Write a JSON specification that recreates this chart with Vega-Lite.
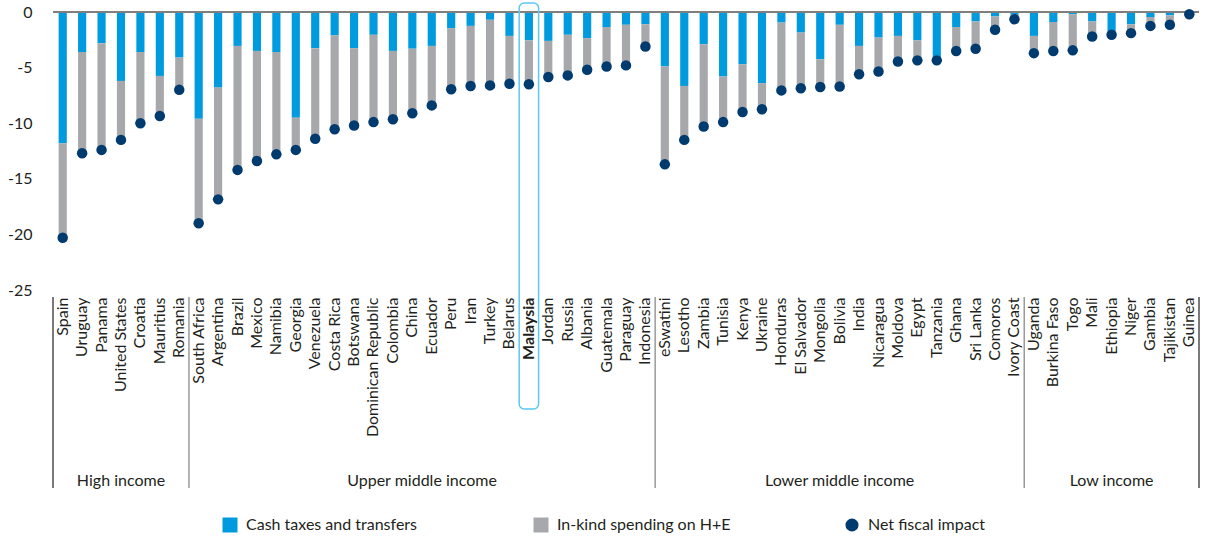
{
  "$schema": "https://vega.github.io/schema/vega-lite/v6.json",
  "width": 1146,
  "height": 278,
  "autosize": "none",
  "padding": {"left": 53, "top": 12, "right": 11, "bottom": 248},
  "background": "white",
  "config": {
    "view": {"stroke": null},
    "font": "Lato",
    "axis": {"labelFont": "Lato", "labelColor": "#231f20", "grid": false}
  },
  "datasets": {
    "countries": [
      {"country": "Spain", "group": "High income", "cash": -11.8, "net": -20.3},
      {"country": "Uruguay", "group": "High income", "cash": -3.6, "net": -12.7},
      {"country": "Panama", "group": "High income", "cash": -2.8, "net": -12.4},
      {"country": "United States", "group": "High income", "cash": -6.2, "net": -11.5},
      {"country": "Croatia", "group": "High income", "cash": -3.6, "net": -10.0},
      {"country": "Mauritius", "group": "High income", "cash": -5.75, "net": -9.35},
      {"country": "Romania", "group": "High income", "cash": -4.1, "net": -7.0},
      {"country": "South Africa", "group": "Upper middle income", "cash": -9.6, "net": -19.0},
      {"country": "Argentina", "group": "Upper middle income", "cash": -6.8, "net": -16.85},
      {"country": "Brazil", "group": "Upper middle income", "cash": -3.05, "net": -14.2},
      {"country": "Mexico", "group": "Upper middle income", "cash": -3.5, "net": -13.4},
      {"country": "Namibia", "group": "Upper middle income", "cash": -3.6, "net": -12.8},
      {"country": "Georgia", "group": "Upper middle income", "cash": -9.5, "net": -12.4},
      {"country": "Venezuela", "group": "Upper middle income", "cash": -3.25, "net": -11.4},
      {"country": "Costa Rica", "group": "Upper middle income", "cash": -2.1, "net": -10.55},
      {"country": "Botswana", "group": "Upper middle income", "cash": -3.25, "net": -10.2},
      {"country": "Dominican Republic", "group": "Upper middle income", "cash": -2.05, "net": -9.9},
      {"country": "Colombia", "group": "Upper middle income", "cash": -3.5, "net": -9.65},
      {"country": "China", "group": "Upper middle income", "cash": -3.3, "net": -9.1},
      {"country": "Ecuador", "group": "Upper middle income", "cash": -3.05, "net": -8.4},
      {"country": "Peru", "group": "Upper middle income", "cash": -1.45, "net": -6.95},
      {"country": "Iran", "group": "Upper middle income", "cash": -1.25, "net": -6.65},
      {"country": "Turkey", "group": "Upper middle income", "cash": -0.7, "net": -6.6},
      {"country": "Belarus", "group": "Upper middle income", "cash": -2.15, "net": -6.45},
      {"country": "Malaysia", "group": "Upper middle income", "cash": -2.55, "net": -6.5},
      {"country": "Jordan", "group": "Upper middle income", "cash": -2.6, "net": -5.85},
      {"country": "Russia", "group": "Upper middle income", "cash": -2.05, "net": -5.7},
      {"country": "Albania", "group": "Upper middle income", "cash": -2.35, "net": -5.2},
      {"country": "Guatemala", "group": "Upper middle income", "cash": -1.35, "net": -4.9},
      {"country": "Paraguay", "group": "Upper middle income", "cash": -1.15, "net": -4.8},
      {"country": "Indonesia", "group": "Upper middle income", "cash": -1.1, "net": -3.1},
      {"country": "eSwatini", "group": "Lower middle income", "cash": -4.9, "net": -13.7},
      {"country": "Lesotho", "group": "Lower middle income", "cash": -6.65, "net": -11.5},
      {"country": "Zambia", "group": "Lower middle income", "cash": -2.9, "net": -10.3},
      {"country": "Tunisia", "group": "Lower middle income", "cash": -5.8, "net": -9.9},
      {"country": "Kenya", "group": "Lower middle income", "cash": -4.7, "net": -9.0},
      {"country": "Ukraine", "group": "Lower middle income", "cash": -6.4, "net": -8.75},
      {"country": "Honduras", "group": "Lower middle income", "cash": -0.95, "net": -7.05},
      {"country": "El Salvador", "group": "Lower middle income", "cash": -1.85, "net": -6.85},
      {"country": "Mongolia", "group": "Lower middle income", "cash": -4.25, "net": -6.75},
      {"country": "Bolivia", "group": "Lower middle income", "cash": -1.15, "net": -6.7},
      {"country": "India", "group": "Lower middle income", "cash": -3.05, "net": -5.6},
      {"country": "Nicaragua", "group": "Lower middle income", "cash": -2.3, "net": -5.35},
      {"country": "Moldova", "group": "Lower middle income", "cash": -2.15, "net": -4.45},
      {"country": "Egypt", "group": "Lower middle income", "cash": -2.55, "net": -4.35},
      {"country": "Tanzania", "group": "Lower middle income", "cash": -4.25, "net": -4.35},
      {"country": "Ghana", "group": "Lower middle income", "cash": -1.35, "net": -3.5},
      {"country": "Sri Lanka", "group": "Lower middle income", "cash": -0.85, "net": -3.3},
      {"country": "Comoros", "group": "Lower middle income", "cash": -0.4, "net": -1.6},
      {"country": "Ivory Coast", "group": "Lower middle income", "cash": -0.25, "net": -0.65},
      {"country": "Uganda", "group": "Low income", "cash": -2.15, "net": -3.7},
      {"country": "Burkina Faso", "group": "Low income", "cash": -0.9, "net": -3.5},
      {"country": "Togo", "group": "Low income", "cash": -0.2, "net": -3.45},
      {"country": "Mali", "group": "Low income", "cash": -0.85, "net": -2.2},
      {"country": "Ethiopia", "group": "Low income", "cash": -1.75, "net": -2.05},
      {"country": "Niger", "group": "Low income", "cash": -1.1, "net": -1.9},
      {"country": "Gambia", "group": "Low income", "cash": -0.45, "net": -1.25},
      {"country": "Tajikistan", "group": "Low income", "cash": -0.3, "net": -1.15},
      {"country": "Guinea", "group": "Low income", "cash": -0.1, "net": -0.2}
    ],
    "groups": [
      {"group": "High income", "first": "Spain", "last": "Romania", "center": "United States"},
      {"group": "Upper middle income", "first": "South Africa", "last": "Indonesia", "center": "Ecuador"},
      {"group": "Lower middle income", "first": "eSwatini", "last": "Ivory Coast", "center": "Bolivia"},
      {"group": "Low income", "first": "Uganda", "last": "Guinea", "center": "Ethiopia"}
    ],
    "highlight": [{"country": "Malaysia"}]
  },
  "layer": [
    {
      "data": {"name": "countries"},
      "mark": {"type": "bar", "width": {"band": 0.42}},
      "encoding": {
        "x": {
          "field": "country", "type": "nominal", "sort": null,
          "scale": {
            "paddingInner": 0, "paddingOuter": 0,
            "domain": ["Spain","Uruguay","Panama","United States","Croatia","Mauritius","Romania","South Africa","Argentina","Brazil","Mexico","Namibia","Georgia","Venezuela","Costa Rica","Botswana","Dominican Republic","Colombia","China","Ecuador","Peru","Iran","Turkey","Belarus","Malaysia","Jordan","Russia","Albania","Guatemala","Paraguay","Indonesia","eSwatini","Lesotho","Zambia","Tunisia","Kenya","Ukraine","Honduras","El Salvador","Mongolia","Bolivia","India","Nicaragua","Moldova","Egypt","Tanzania","Ghana","Sri Lanka","Comoros","Ivory Coast","Uganda","Burkina Faso","Togo","Mali","Ethiopia","Niger","Gambia","Tajikistan","Guinea"]
          },
          "axis": {
            "title": null, "labelAngle": -90, "labelPadding": 7, "ticks": false, "domain": false,
            "labelFontSize": 16, "labelLimit": 300,
            "labelFontWeight": {"condition": {"test": "datum.value === 'Malaysia'", "value": "bold"}, "value": "normal"}
          }
        },
        "y": {
          "field": "cash", "type": "quantitative",
          "scale": {"domain": [-25, 0], "nice": false, "zero": false},
          "axis": {
            "title": null, "values": [0, -5, -10, -15, -20, -25], "ticks": false, "domain": false,
            "labelPadding": 21, "labelFontSize": 16, "labelExpr": "'' + datum.value"
          }
        },
        "y2": {"datum": 0},
        "color": {
          "datum": "Cash taxes and transfers",
          "scale": {
            "domain": ["Cash taxes and transfers", "In-kind spending on H+E", "Net fiscal impact"],
            "range": ["#009ADE", "#A7A8AC", "#003B6F"]
          },
          "legend": {
            "title": null, "orient": "none", "direction": "horizontal",
            "legendX": 169, "legendY": 505,
            "labelFontSize": 16, "labelColor": "#231f20", "labelFont": "Lato", "labelLimit": 400,
            "symbolSize": 225, "labelOffset": 8, "columnPadding": 113, "gridAlign": "all",
            "symbolStrokeWidth": 0,
            "encode": {
              "symbols": {
                "update": {
                  "shape": {"signal": "datum.value === 'Net fiscal impact' ? 'circle' : 'square'"},
                  "size": {"signal": "datum.value === 'Net fiscal impact' ? 170 : 225"},
                  "opacity": {"value": 1}
                }
              }
            }
          }
        }
      }
    },
    {
      "data": {"name": "countries"},
      "mark": {"type": "bar", "width": {"band": 0.42}},
      "encoding": {
        "x": {"field": "country", "type": "nominal", "sort": null, "title": null},
        "y": {"field": "cash", "type": "quantitative", "title": null},
        "y2": {"field": "net"},
        "color": {"datum": "In-kind spending on H+E"}
      }
    },
    {
      "data": {"name": "countries"},
      "mark": {"type": "rule", "color": "#7f7f7f", "strokeWidth": 2},
      "encoding": {"y": {"datum": 0}}
    },
    {
      "data": {"name": "countries"},
      "mark": {"type": "circle", "size": 110, "opacity": 1},
      "encoding": {
        "x": {"field": "country", "type": "nominal", "sort": null, "title": null},
        "y": {"field": "net", "type": "quantitative", "title": null},
        "color": {"datum": "Net fiscal impact"}
      }
    },
    {
      "data": {"name": "groups"},
      "mark": {"type": "rule", "strokeWidth": 1.2},
      "encoding": {
        "x": {"field": "first", "type": "nominal", "bandPosition": 0, "title": null},
        "y": {"datum": -25.63},
        "y2": {"datum": -42.8},
        "color": {"condition": {"test": "datum.group === 'High income'", "value": "#231f20"}, "value": "#808080"}
      }
    },
    {
      "data": {"name": "groups"},
      "transform": [{"filter": "datum.group === 'Low income'"}],
      "mark": {"type": "rule", "strokeWidth": 1.2, "color": "#231f20"},
      "encoding": {
        "x": {"field": "last", "type": "nominal", "bandPosition": 1, "title": null},
        "y": {"datum": -25.63},
        "y2": {"datum": -42.8}
      }
    },
    {
      "data": {"name": "groups"},
      "transform": [{"filter": "datum.group !== 'Upper middle income'"}],
      "mark": {"type": "text", "fontSize": 16, "color": "#231f20", "baseline": "middle", "align": "center"},
      "encoding": {
        "x": {"field": "center", "type": "nominal", "bandPosition": 0.5, "title": null},
        "y": {"datum": -42.15},
        "text": {"field": "group"}
      }
    },
    {
      "data": {"name": "groups"},
      "transform": [{"filter": "datum.group === 'Upper middle income'"}],
      "mark": {"type": "text", "fontSize": 16, "color": "#231f20", "baseline": "middle", "align": "center"},
      "encoding": {
        "x": {"field": "center", "type": "nominal", "bandPosition": 0, "title": null},
        "y": {"datum": -42.15},
        "text": {"field": "group"}
      }
    },
    {
      "data": {"name": "highlight"},
      "mark": {"type": "rect", "filled": false, "stroke": "#5BC8F2", "strokeWidth": 1.5, "cornerRadius": 5},
      "encoding": {
        "x": {"field": "country", "type": "nominal", "title": null},
        "y": {"datum": 0.81},
        "y2": {"datum": -35.7}
      }
    }
  ]
}
